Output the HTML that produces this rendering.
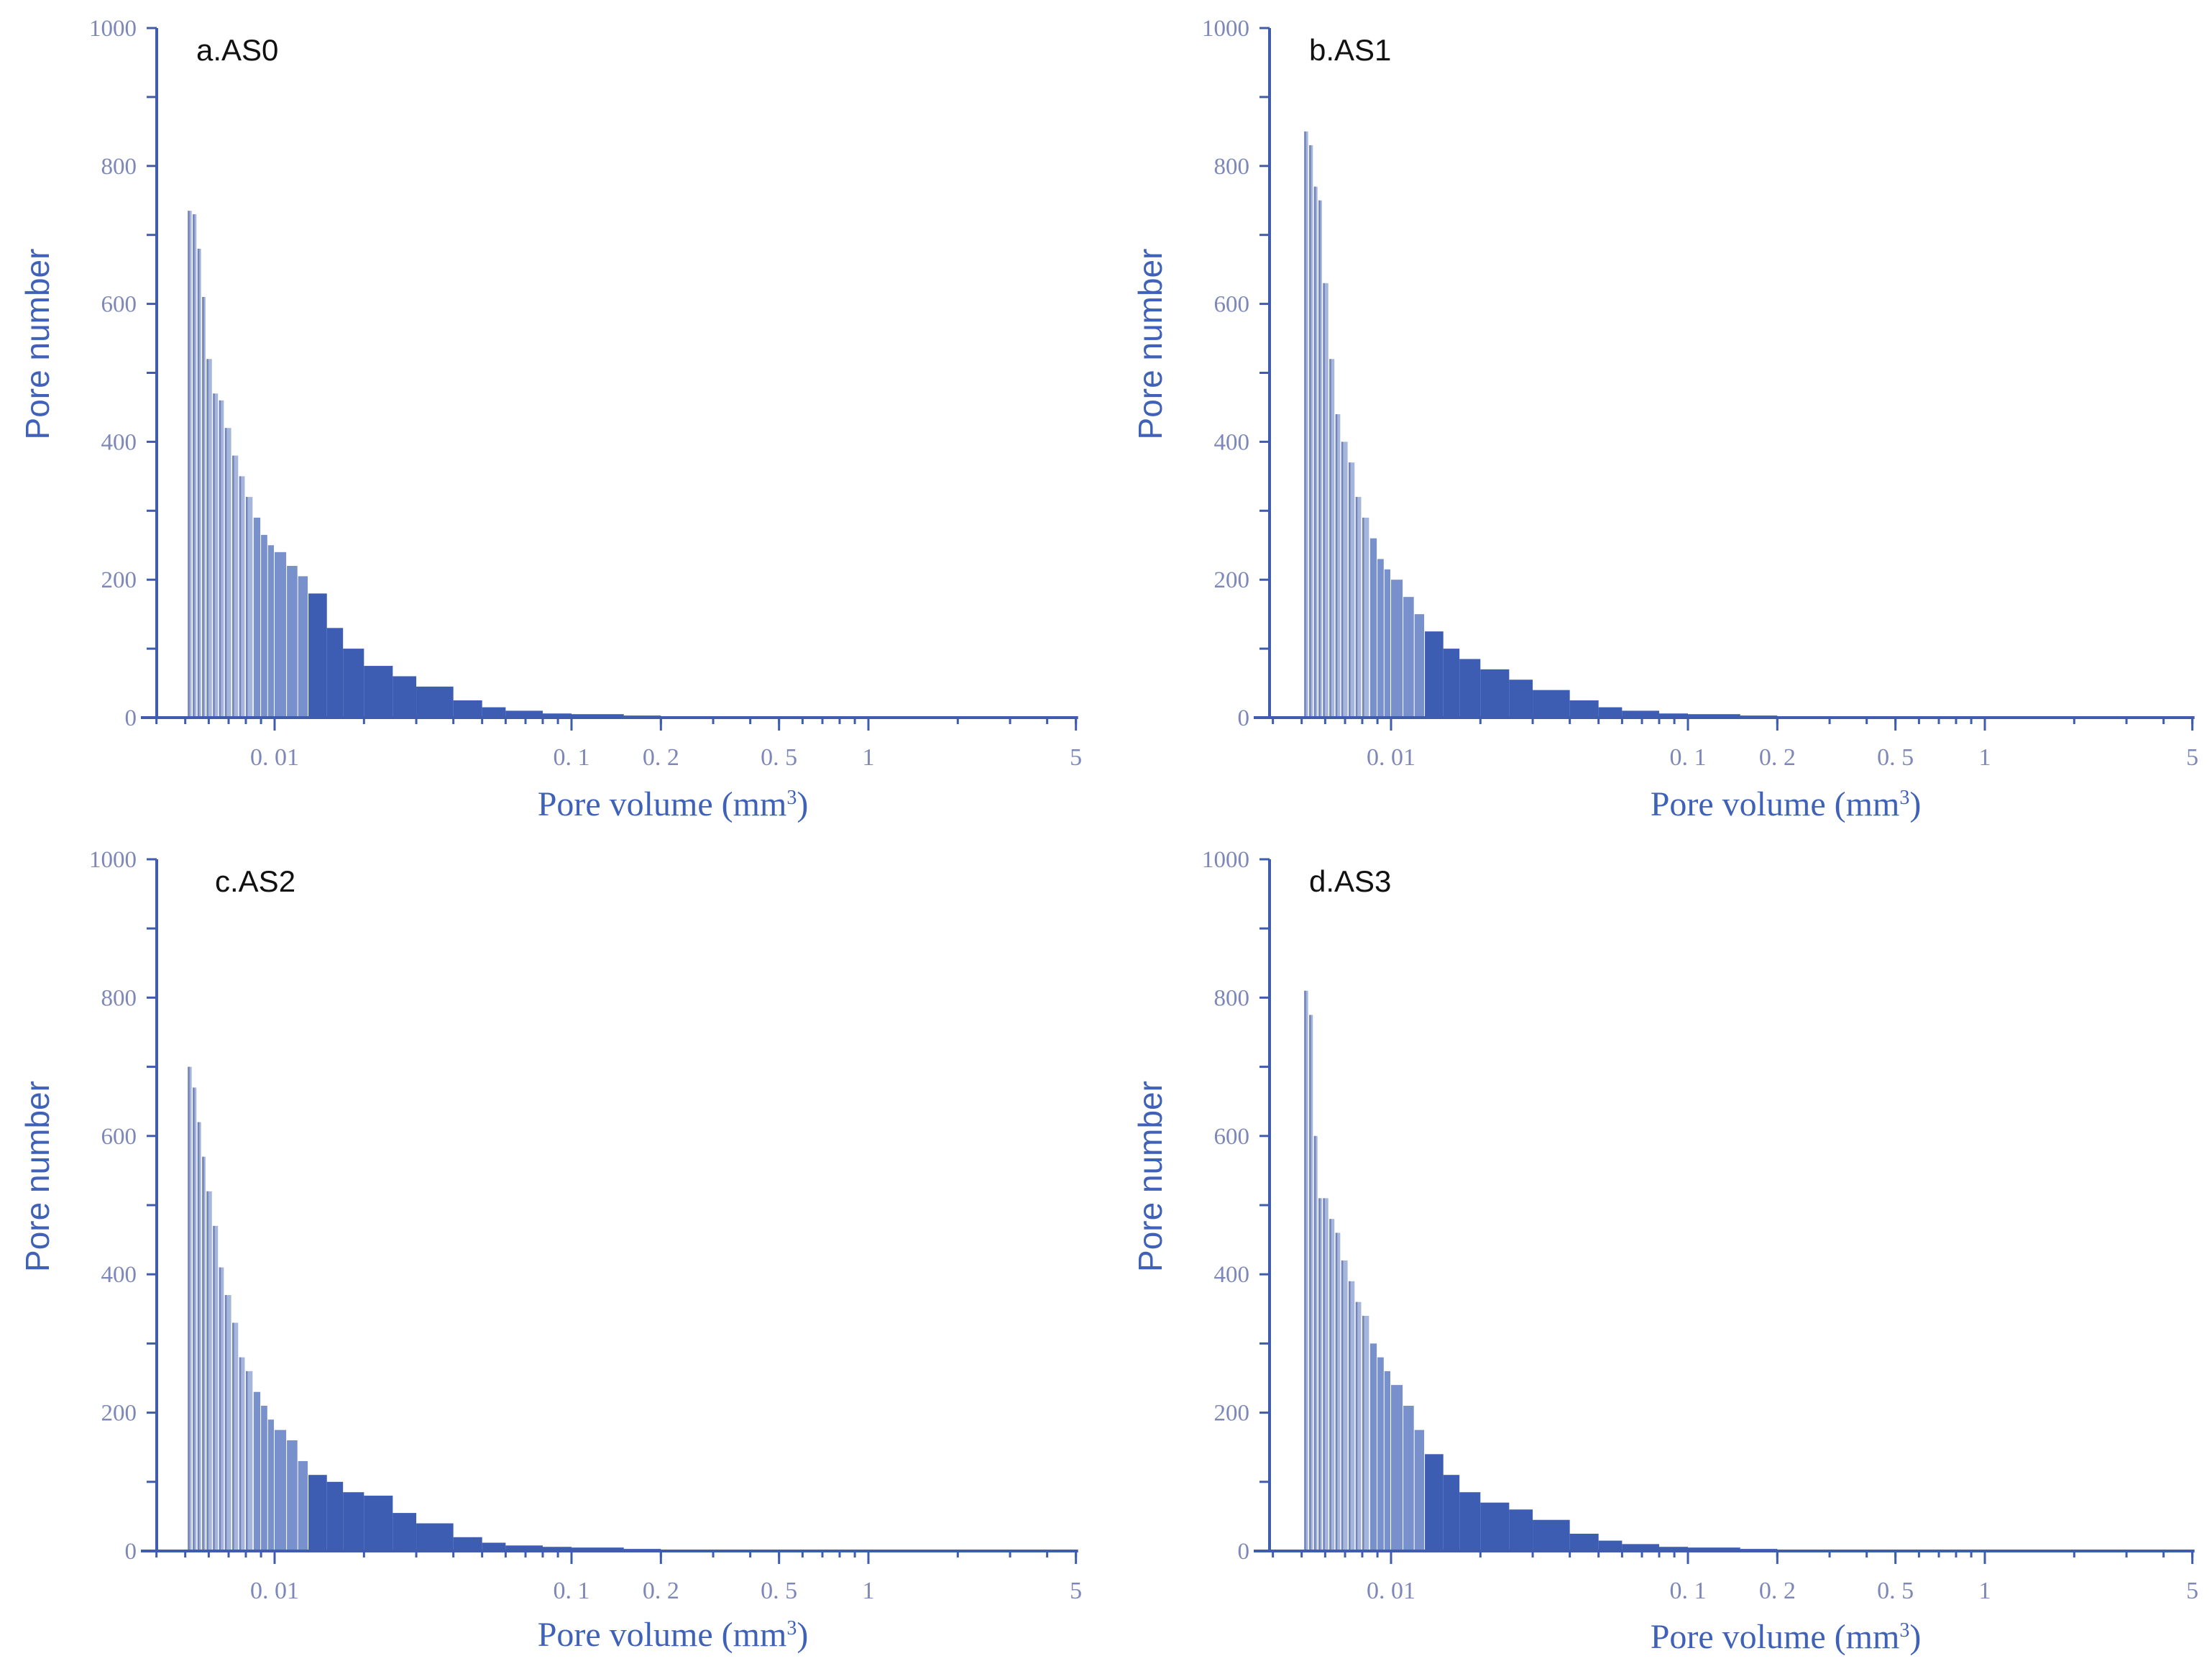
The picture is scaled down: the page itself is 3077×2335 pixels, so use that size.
<!DOCTYPE html>
<html><head><meta charset="utf-8"><style>
html,body{margin:0;padding:0;background:#fff;}
svg{display:block;}
</style></head><body>
<svg id="chart" width="3077" height="2335" viewBox="0 0 3077 2335" xmlns="http://www.w3.org/2000/svg"></svg>
<script>
const volumes = [0.0051,0.0053,0.0055,0.0057,0.0059,0.0062,0.0065,0.0068,0.0072,0.0076,0.008,0.0085,0.009,0.0095,0.01,0.011,0.012,0.013,0.015,0.017,0.02,0.025,0.03,0.04,0.05,0.06,0.08,0.1,0.15,0.2,0.3,0.5,1,2,5];
const countsAS0 = [735,730,680,610,520,470,460,420,380,350,320,290,265,250,240,220,205,180,130,100,75,60,45,25,15,10,6,5,3,2,1,1,0.5,0.3,0];
const countsAS1 = [850,830,770,750,630,520,440,400,370,320,290,260,230,215,200,175,150,125,100,85,70,55,40,25,15,10,6,5,3,2,1,1,0.5,0.3,0];
const countsAS2 = [700,670,620,570,520,470,410,370,330,280,260,230,210,190,175,160,130,110,100,85,80,55,40,20,12,8,6,5,3,2,1,1,0.5,0.3,0];
const countsAS3 = [810,775,600,510,510,480,460,420,390,360,340,300,280,260,240,210,175,140,110,85,70,60,45,25,15,10,6,5,3,2,1,1,0.5,0.3,0];
const yTicks = [0,200,400,600,800,1000];
const xTickVals = [0.01,0.1,0.2,0.5,1,5];
const xTickLabels = ["0. 01","0. 1","0. 2","0. 5","1","5"];
const panelTitles = ["a.AS0","b.AS1","c.AS2","d.AS3"];

const NS="http://www.w3.org/2000/svg";
const svg=document.getElementById('chart');
function mk(tag,attrs,parent){const e=document.createElementNS(NS,tag);for(const k in attrs)e.setAttribute(k,attrs[k]);(parent||svg).appendChild(e);return e;}

const panels=[
 {axisX:218,x01:382,y0:998,yTop:39,counts:countsAS0,title:panelTitles[0],lblY:1134},
 {axisX:1766,x01:1935,y0:998,yTop:39,counts:countsAS1,title:panelTitles[1],lblY:1134},
 {axisX:218,x01:382,y0:2157,yTop:1195,counts:countsAS2,title:panelTitles[2],lblY:2289},
 {axisX:1766,x01:1935,y0:2157,yTop:1195,counts:countsAS3,title:panelTitles[3],lblY:2292}
];
const DEC=413;
const axisCol="#3f5cae", tickTxt="#7d88b8";
panels.forEach((p,pi)=>{
  const g=mk('g',{});
  
  
  const xs=v=>p.x01+DEC*(Math.log10(v)+2);
  const ys=c=>p.y0-(p.y0-p.yTop)*c/1000;
  const xEnd=xs(5);
  for(let i=0;i<volumes.length-1;i++){
    const x1=xs(volumes[i]), x2=xs(volumes[i+1]);
    const v=volumes[i];
    const col=v<0.0085?"#a6b5dc":(v<0.013?"#7890cc":"#3d5db3");
    const gap=v<0.0085?1.5:(v<0.013?1:0);
    const c=p.counts[i];
    const r=mk('rect',{x:x1,y:ys(c),width:Math.max(1,x2-x1-gap),height:p.y0-ys(c),fill:col},g);
    
    
    if(v<0.0085){
      const s=mk('rect',{x:x1,y:ys(c),width:2.5,height:p.y0-ys(c),fill:"#7384b8"},g);
      
      
    }
  }
  const ya=mk('line',{x1:p.axisX,y1:p.yTop,x2:p.axisX,y2:p.y0,stroke:axisCol,'stroke-width':4},g);
  
  
  const xa=mk('line',{x1:p.axisX-22,y1:p.y0,x2:xEnd+3,y2:p.y0,stroke:axisCol,'stroke-width':4},g);
  
  
  for(let t=0;t<=1000;t+=100){
    const l=mk('line',{x1:p.axisX-14,y1:ys(t),x2:p.axisX,y2:ys(t),stroke:axisCol,'stroke-width':3},g);
    
    
  }
  yTicks.forEach(t=>{
    const tx=mk('text',{x:p.axisX-28,y:ys(t)+11,'text-anchor':'end','font-family':'"Liberation Serif",serif','font-size':33,fill:tickTxt},g);
    tx.textContent=String(t);
    
    
  });
  for(let d=-3;d<=0;d++){
    for(let m=1;m<=9;m++){
      const v=m*Math.pow(10,d);
      if(v<0.004||v>5.001)continue;
      const x=xs(v);
      const l=mk('line',{x1:x,y1:p.y0,x2:x,y2:p.y0+(m===1?18:9),stroke:axisCol,'stroke-width':3},g);
      
      
    }
  }
  xTickVals.forEach((v,i)=>{
    const x=xs(v);
    const l=mk('line',{x1:x,y1:p.y0,x2:x,y2:p.y0+18,stroke:axisCol,'stroke-width':3},g);
    
    
    const tx=mk('text',{x:x,y:p.y0+66,'text-anchor':'middle','font-family':'"Liberation Serif",serif','font-size':34,fill:tickTxt},g);
    tx.textContent=xTickLabels[i];
    
    
  });
  const tt=mk('text',{x:p.axisX+55+(pi===2?26:0),y:p.yTop+45,'font-family':'"Liberation Sans",sans-serif','font-size':42,fill:'#111'},g);
  tt.textContent=p.title;
  
  
  const yl=mk('text',{x:0,y:0,transform:`translate(${p.axisX-150},${(p.y0+p.yTop)/2-40}) rotate(-90)`,'text-anchor':'middle','font-family':'"Liberation Sans",sans-serif','font-size':46,fill:'#3f62b8'},g);
  yl.textContent='Pore number';
  
  
  const xl=mk('text',{x:p.axisX+718,y:p.lblY,'text-anchor':'middle','font-family':'"Liberation Serif",serif','font-size':48,fill:'#3f62b8'},g);
  xl.innerHTML='Pore volume (mm<tspan dy="-16" font-size="28">3</tspan><tspan dy="16">)</tspan>';
  
  
});
</script>
</body></html>
